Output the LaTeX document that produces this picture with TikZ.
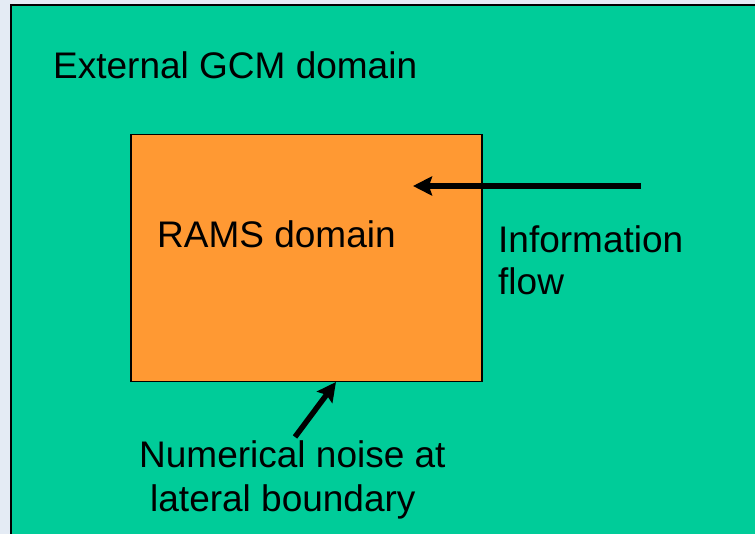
\documentclass[tikz,border=0pt]{standalone}
\usepackage{fontspec}
\setmainfont{Liberation Sans}
\usetikzlibrary{arrows.meta}
\definecolor{bgblue}{HTML}{E4EBF4}
\definecolor{gcmgreen}{HTML}{00CC99}
\definecolor{ramsorange}{HTML}{FF9933}
\tikzset{
  label text/.style={font=\fontsize{37}{44}\selectfont, inner sep=0pt, anchor=base west},
  flow arrow/.style={line width=5.5pt, -{Stealth[length=19pt,width=19pt,inset=3pt]}},
}
\begin{document}
\begin{tikzpicture}[x=1pt,y=1pt]
  \useasboundingbox (0,0) rectangle (755,534);
  \clip (0,0) rectangle (755,534);
  % page background
  \fill[bgblue] (0,0) rectangle (755,534);
  % outer GCM domain
  \draw[line width=2pt, fill=gcmgreen] (10.5,528.5) rectangle (780,-20);
  % nested RAMS domain
  \node[draw, line width=1.5pt, fill=ramsorange, minimum width=351pt, minimum height=247pt,
        inner sep=0pt, anchor=north west] (rams) at (130,400) {};
  % labels
  \node[label text] (gcm) at (53,455) {External GCM domain};
  \node[label text] (ramslabel) at (157,286) {RAMS domain};
  \node[label text] (info) at (498,281) {Information};
  \node[label text] (flow) at (498,239) {flow};
  \node[label text] (noise1) at (139,66) {Numerical noise at};
  \node[label text] (noise2) at (150,22) {lateral boundary};
  % arrows
  \coordinate (flowstart) at (641,348);
  \coordinate (flowend) at (413,348);
  \draw[flow arrow] (flowstart) -- (flowend);
  \coordinate (noisestart) at (295,97);
  \coordinate (noiseend) at (336,152);
  \draw[flow arrow] (noisestart) -- (noiseend);
\end{tikzpicture}
\end{document}
